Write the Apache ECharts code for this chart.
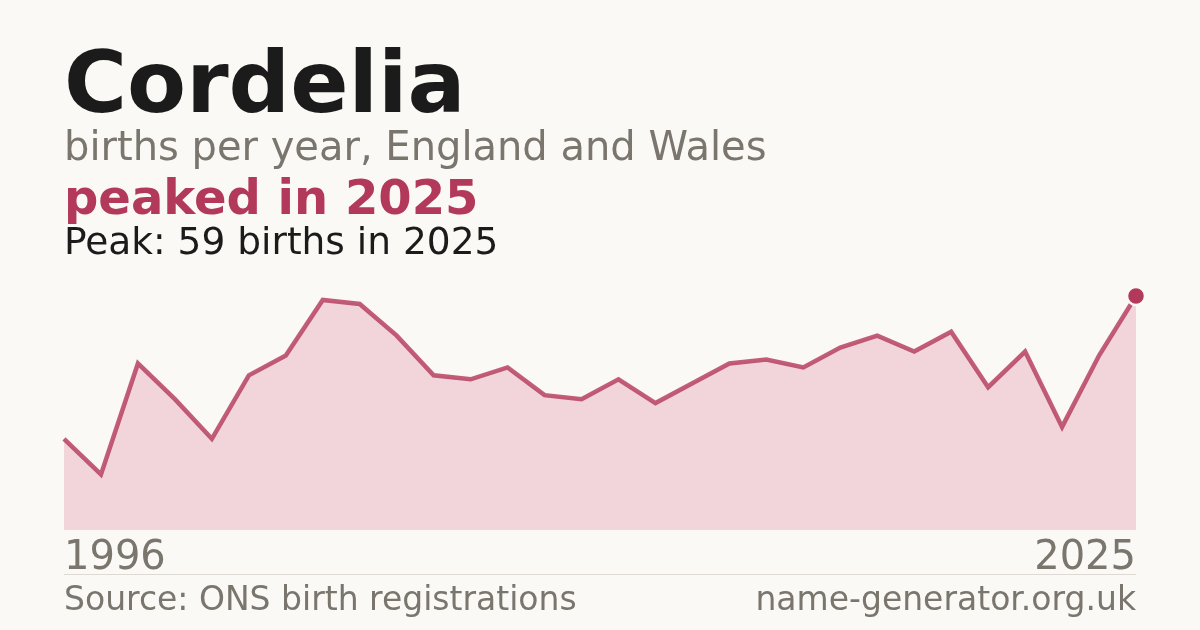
<!DOCTYPE html>
<html>
<head>
<meta charset="utf-8">
<script src="https://cdn.jsdelivr.net/npm/echarts@6/dist/echarts.min.js"></script>
<style>
html,body{margin:0;padding:0;background:#faf9f5;}
#c{width:1200px;height:630px;}
</style>
</head>
<body>
<div id="c"></div>
<script>
const years = ['1996','1997','1998','1999','2000','2001','2002','2003','2004','2005','2006','2007','2008','2009','2010','2011','2012','2013','2014','2015','2016','2017','2018','2019','2020','2021','2022','2023','2024','2025'];
const births = [23,14,42,33,23,39,44,58,57,49,39,38,41,34,33,38,32,37,42,43,41,46,49,45,50,36,45,26,44,59];
const titleText = 'Cordelia';
const subtitleText = 'births per year, England and Wales';
const headlineText = 'peaked in 2025';
const peakText = 'Peak: 59 births in 2025';
const sourceText = 'Source: ONS birth registrations';
const siteText = 'name-generator.org.uk';

const FONT = '"DejaVu Sans", sans-serif';
const ACCENT = '#b3395a';
const GREY = '#7a756d';
const BG = '#faf9f5';

const chart = echarts.init(document.getElementById('c'), null, {renderer: 'canvas'});
const lastIdx = births.length - 1;
chart.setOption({
  backgroundColor: BG,
  animation: false,
  grid: {left: 64, right: 64, top: 296, bottom: 100, containLabel: false},
  xAxis: {
    type: 'category',
    data: years,
    boundaryGap: false,
    axisLine: {show: false},
    axisTick: {show: false},
    splitLine: {show: false},
    axisLabel: {
      interval: function (i) { return i === 0 || i === lastIdx; },
      color: GREY,
      fontFamily: FONT,
      fontSize: 40,
      margin: 9,
      alignMinLabel: 'left',
      alignMaxLabel: 'right',
      verticalAlign: 'top'
    }
  },
  yAxis: {
    type: 'value', min: 0, max: 59,
    show: false, splitLine: {show: false}
  },
  series: [{
    type: 'line',
    data: births.map((v, i) => i === lastIdx ? {value: v, symbol: 'circle', symbolSize: 18, itemStyle: {color: ACCENT, borderColor: BG, borderWidth: 2.5}} : v),
    symbol: 'none',
    showSymbol: true,
    lineStyle: {color: '#b53a5c', width: 4.5, opacity: 0.82, join: 'miter'},
    areaStyle: {color: '#f1d5db', opacity: 1},
    z: 3
  }],
  graphic: [
    {type: 'text', left: 64, top: 47, style: {text: titleText, font: 'bold 86px ' + FONT, fill: '#1b1b1b'}},
    {type: 'text', left: 64, top: 130, style: {text: subtitleText, font: '40px ' + FONT, fill: GREY}},
    {type: 'text', left: 64, top: 178, style: {text: headlineText, font: 'bold 48px ' + FONT, fill: ACCENT}},
    {type: 'text', left: 64, top: 225, style: {text: peakText, font: '37.5px ' + FONT, fill: '#1b1b1b'}},
    {type: 'rect', left: 64, top: 574, shape: {width: 1072, height: 1}, style: {fill: '#dedad3'}},
    {type: 'text', left: 64, top: 585, style: {text: sourceText, font: '33px ' + FONT, fill: GREY}},
    {type: 'text', right: 64, top: 585, style: {text: siteText, font: '33px ' + FONT, fill: GREY}}
  ]
});
</script>
</body>
</html>
